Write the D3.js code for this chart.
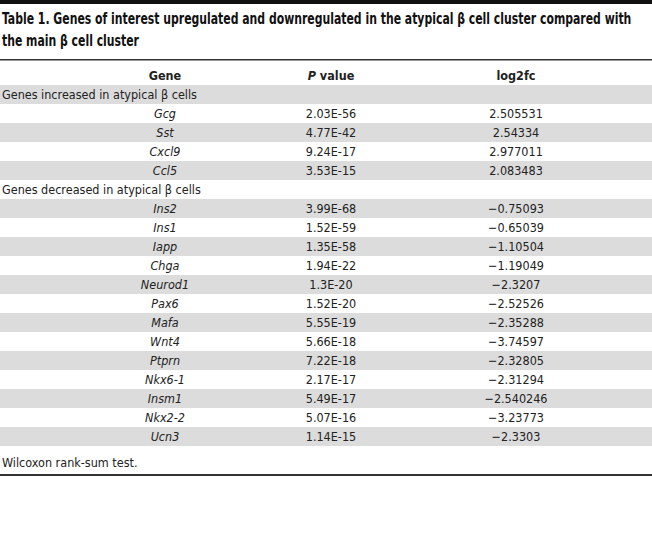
<!DOCTYPE html>
<meta charset="utf-8">
<style>
body { margin: 0; background: #fff; }
svg { display: block; }
text { font-family: "Liberation Sans Narrow", "DejaVu Sans Condensed", "Open Sans", sans-serif; fill: #222; }
.title { font-weight: bold; font-size: 15.5px; fill: #111; }
.head { font-weight: bold; font-size: 12.5px; }
.cell { font-size: 12.5px; }
.gene { font-style: italic; }
</style>
<svg width="652" height="536"></svg>
<script src="https://d3js.org/d3.v7.min.js"></script>
<script>

var titleLines = ["Table 1. Genes of interest upregulated and downregulated in the atypical \u03b2 cell cluster compared with",
                  "the main \u03b2 cell cluster"];
var columns = ["Gene", "P value", "log2fc"];

var upLabel = "Genes increased in atypical \u03b2 cells";
var upGenes = ["Gcg", "Sst", "Cxcl9", "Ccl5"];
var upP = ["2.03E-56", "4.77E-42", "9.24E-17", "3.53E-15"];
var upFc = ["2.505531", "2.54334", "2.977011", "2.083483"];

var downLabel = "Genes decreased in atypical \u03b2 cells";
var downGenes = ["Ins2", "Ins1", "Iapp", "Chga", "Neurod1", "Pax6", "Mafa", "Wnt4", "Ptprn", "Nkx6-1", "Insm1", "Nkx2-2", "Ucn3"];
var downP = ["3.99E-68", "1.52E-59", "1.35E-58", "1.94E-22", "1.3E-20", "1.52E-20", "5.55E-19", "5.66E-18", "7.22E-18", "2.17E-17", "5.49E-17", "5.07E-16", "1.14E-15"];
var downFc = ["\u22120.75093", "\u22120.65039", "\u22121.10504", "\u22121.19049", "\u22122.3207", "\u22122.52526", "\u22122.35288", "\u22123.74597", "\u22122.32805", "\u22122.31294", "\u22122.540246", "\u22123.23773", "\u22122.3303"];

var footnote = "Wilcoxon rank-sum test.";

// build rows
var rows = [{group: upLabel}];
upGenes.forEach(function(g, i) { rows.push({gene: g, p: upP[i], fc: upFc[i]}); });
rows.push({group: downLabel});
downGenes.forEach(function(g, i) { rows.push({gene: g, p: downP[i], fc: downFc[i]}); });

var svg = d3.select("svg"),
    width = 652;

var y = d3.scaleBand()
    .domain(d3.range(rows.length))
    .range([85, 85 + 19 * rows.length]);

var x = d3.scaleOrdinal()
    .domain(columns)
    .range([165, 331, 516]);

// top bar
svg.append("rect").attr("x", 0).attr("y", 0).attr("width", width).attr("height", 4).attr("fill", "#111");

// title, squeezed horizontally so line 1 ends where the original does
var tg = svg.append("g");
var title = tg.selectAll(".title")
  .data(titleLines)
  .enter().append("text")
    .attr("class", "title")
    .attr("x", 2)
    .attr("y", function(d, i) { return 24 + i * 22; })
    .text(function(d) { return d; });

var w0 = title.node().getComputedTextLength();
var sx = Math.min(1, 630 / w0);
tg.attr("transform", "translate(2,0) scale(" + sx + ",1) translate(-2,0)");

svg.append("rect").attr("x", 0).attr("y", 59).attr("width", width).attr("height", 1.5).attr("fill", "#333");

// header
var head = svg.selectAll(".head")
  .data(columns)
  .enter().append("text")
    .attr("class", "head")
    .attr("x", function(d) { return x(d); })
    .attr("y", 80)
    .attr("text-anchor", "middle");
head.each(function(d) {
  var t = d3.select(this);
  if (d === "P value") {
    t.append("tspan").attr("font-style", "italic").text("P");
    t.append("tspan").text(" value");
  } else t.text(d);
});

// row stripes
svg.selectAll(".stripe")
  .data(rows)
  .enter().append("rect")
    .attr("class", "stripe")
    .attr("x", 0)
    .attr("y", function(d, i) { return y(i); })
    .attr("width", width)
    .attr("height", y.bandwidth())
    .attr("fill", function(d, i) { return i % 2 === 0 ? "#dcdcdc" : "#fff"; });

var row = svg.selectAll(".row")
  .data(rows)
  .enter().append("g")
    .attr("class", "row")
    .attr("transform", function(d, i) { return "translate(0," + (y(i) + y.bandwidth() / 2) + ")"; });

row.filter(function(d) { return d.group; })
  .append("text")
    .attr("class", "cell")
    .attr("x", 2)
    .attr("dy", "0.35em")
    .text(function(d) { return d.group; });

var body = row.filter(function(d) { return !d.group; });
body.append("text")
    .attr("class", "cell gene")
    .attr("x", x("Gene"))
    .attr("dy", "0.35em")
    .attr("text-anchor", "middle")
    .text(function(d) { return d.gene; });
body.append("text")
    .attr("class", "cell")
    .attr("x", x("P value"))
    .attr("dy", "0.35em")
    .attr("text-anchor", "middle")
    .text(function(d) { return d.p; });
body.append("text")
    .attr("class", "cell")
    .attr("x", x("log2fc"))
    .attr("dy", "0.35em")
    .attr("text-anchor", "middle")
    .text(function(d) { return d.fc; });

svg.append("text")
    .attr("class", "cell")
    .attr("x", 2)
    .attr("y", 467)
    .text(footnote);

svg.append("rect").attr("x", 0).attr("y", 474).attr("width", width).attr("height", 2).attr("fill", "#333");

</script>
